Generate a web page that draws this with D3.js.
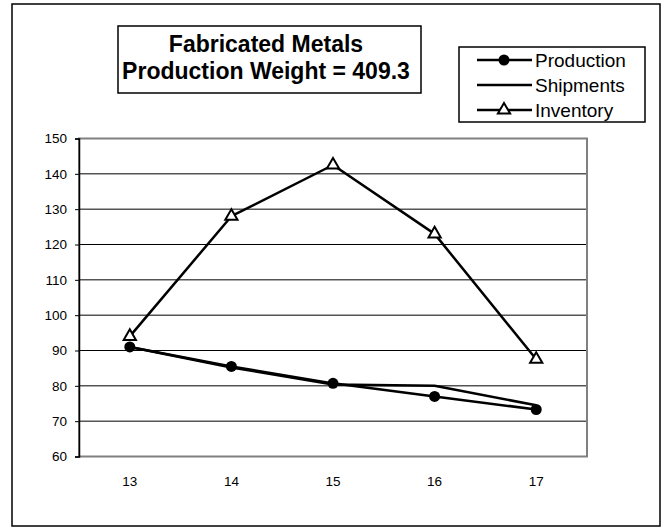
<!DOCTYPE html>
<html><head><meta charset="utf-8">
<script src="https://cdn.jsdelivr.net/npm/d3@7/dist/d3.min.js"></script>
<style>body{margin:0;background:#fff}svg{display:block;font-family:"Liberation Sans",Arial,sans-serif}</style>
</head><body>
<svg id="c" width="664" height="527"></svg>
<script>
const categories = ["13","14","15","16","17"];
const production = [91, 85.5, 80.7, 77, 73.3];
const shipments = [91, 85.2, 80.4, 80, 74.5];
const inventory = [94, 128, 142.5, 123, 87.5];
const yTicks = [60,70,80,90,100,110,120,130,140,150];
const titleLines = ["Fabricated Metals","Production Weight = 409.3"];
const seriesNames = ["Production","Shipments","Inventory"];

const svg = d3.select("#c");
svg.append("rect").attr("x",12).attr("y",4).attr("width",648).attr("height",522)
  .attr("fill","#fff").attr("stroke","#000").attr("stroke-width",1.5);

const L=79,R=587,T=138.5,B=456.5;
const x = d3.scaleBand().domain(categories).range([L,R]).padding(0);
const y = d3.scaleLinear().domain([60,150]).range([B,T]);

// gridlines
svg.append("g").selectAll("line").data(yTicks.filter(d=>d>60&&d<150)).join("line")
  .attr("x1",L).attr("x2",R).attr("y1",d=>y(d)).attr("y2",d=>y(d))
  .attr("stroke","#000").attr("stroke-width",1);

// plot border
svg.append("rect").attr("x",L).attr("y",T).attr("width",R-L).attr("height",B-T)
  .attr("fill","none").attr("stroke","#808080").attr("stroke-width",2);

// y axis
const yAxis = d3.axisLeft(y).tickValues(yTicks).tickSize(4).tickPadding(8).tickFormat(d3.format("d"));
const gy = svg.append("g").attr("transform",`translate(${L},0)`).call(yAxis);
gy.select(".domain").attr("stroke","#000").attr("stroke-width",1.5);
gy.selectAll(".tick line").attr("stroke","#000");
gy.selectAll("text").attr("font-size",13.5).attr("font-family","Liberation Sans, Arial, sans-serif").attr("fill","#000");

// x axis
const xAxis = d3.axisBottom(x).tickSize(0).tickPadding(20);
const gx = svg.append("g").attr("transform",`translate(0,${B})`).call(xAxis);
gx.select(".domain").remove();
gx.selectAll("text").attr("font-size",13.5).attr("font-family","Liberation Sans, Arial, sans-serif").attr("fill","#000");

const cx = d => x(d)+x.bandwidth()/2;
const line = d3.line().x((d,i)=>cx(categories[i])).y(d=>y(d));

[inventory, shipments, production].forEach(s=>{
  svg.append("path").datum(s).attr("d",line).attr("fill","none")
    .attr("stroke","#000").attr("stroke-width",2.5).attr("stroke-linejoin","round");
});

svg.append("g").selectAll("circle").data(production).join("circle")
  .attr("cx",(d,i)=>cx(categories[i])).attr("cy",d=>y(d)).attr("r",5.5).attr("fill","#000");

const tri = d3.symbol().type(d3.symbolTriangle).size(65);
svg.append("g").selectAll("path").data(inventory).join("path")
  .attr("d",tri).attr("transform",(d,i)=>`translate(${cx(categories[i])},${y(d)})`)
  .attr("fill","#fff").attr("stroke","#000").attr("stroke-width",2);

// title box
svg.append("rect").attr("x",118).attr("y",26).attr("width",303).attr("height",67)
  .attr("fill","#fff").attr("stroke","#000").attr("stroke-width",1.5);
svg.append("g").selectAll("text").data(titleLines).join("text")
  .attr("x",266).attr("y",(d,i)=>52+i*27).attr("text-anchor","middle")
  .attr("font-size",23).attr("font-weight","bold").attr("fill","#000").text(d=>d);

// legend
svg.append("rect").attr("x",459).attr("y",47).attr("width",186).attr("height",75)
  .attr("fill","#fff").attr("stroke","#000").attr("stroke-width",1.5);
const lg = svg.append("g").selectAll("g").data(seriesNames).join("g")
  .attr("transform",(d,i)=>`translate(0,${60+i*25})`);
lg.append("line").attr("x1",477).attr("x2",532).attr("stroke","#000").attr("stroke-width",2.5);
lg.append("text").attr("x",535).attr("y",7).attr("font-size",19).attr("fill","#000").text(d=>d);
lg.filter((d,i)=>i===0).append("circle").attr("cx",504).attr("r",5.5).attr("fill","#000");
lg.filter((d,i)=>i===2).append("path").attr("d",tri).attr("transform","translate(504,0)")
  .attr("fill","#fff").attr("stroke","#000").attr("stroke-width",2);
</script>
</body></html>
